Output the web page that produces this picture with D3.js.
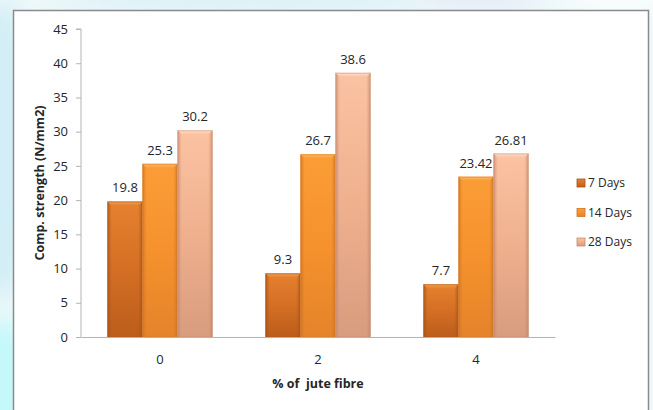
<!DOCTYPE html>
<html>
<head>
<meta charset="utf-8">
<script src="https://cdn.jsdelivr.net/npm/d3@7"></script>
<style>
  html, body { margin: 0; padding: 0; background: #ffffff; }
  svg { display: block; }
  text { font-family: "Open Sans", "DejaVu Sans", sans-serif; fill: #262626; }
</style>
</head>
<body>
<svg id="chart" width="653" height="410"></svg>
<script>
// Compressive strength by jute fibre content and curing age
const fibreContent = ["0", "2", "4"];
const seriesNames = ["7 Days", "14 Days", "28 Days"];
const days7 = [19.8, 9.3, 7.7];
const days14 = [25.3, 26.7, 23.42];
const days28 = [30.2, 38.6, 26.81];
const valueLabels = [["19.8", "9.3", "7.7"], ["25.3", "26.7", "23.42"], ["30.2", "38.6", "26.81"]];
const yTicks = [0, 5, 10, 15, 20, 25, 30, 35, 40, 45];

const seriesValues = [days7, days14, days28];

const svg = d3.select("#chart");
const W = 653, H = 410;
const defs = svg.append("defs");

// Soft backdrop behind the chart panel
const blur = defs.append("filter").attr("id", "soft").attr("x", "-50%").attr("y", "-50%")
  .attr("width", "200%").attr("height", "200%");
blur.append("feGaussianBlur").attr("stdDeviation", 12);

svg.append("rect").attr("width", W).attr("height", H).attr("fill", "#eef8fa");
const bg = svg.append("g").attr("filter", "url(#soft)");
bg.append("ellipse").attr("cx", 0).attr("cy", 150).attr("rx", 40).attr("ry", 150).attr("fill", "#d2eef6");
bg.append("ellipse").attr("cx", 0).attr("cy", 380).attr("rx", 40).attr("ry", 60).attr("fill", "#c4f8fa");
bg.append("ellipse").attr("cx", 250).attr("cy", 0).attr("rx", 200).attr("ry", 12).attr("fill", "#d8f0f6");
bg.append("ellipse").attr("cx", 480).attr("cy", 0).attr("rx", 60).attr("ry", 10).attr("fill", "#e4e8f4");
bg.append("ellipse").attr("cx", 620).attr("cy", 0).attr("rx", 60).attr("ry", 10).attr("fill", "#ffffff");

// Chart panel
svg.append("rect").attr("x", 13.5).attr("y", 10.5).attr("width", 635).attr("height", 420)
  .attr("fill", "#ffffff").attr("stroke", "#8a8a8a").attr("stroke-width", 1.5);

// Bar fills: body gradient plus edge shading
const palettes = [
  { top: "#e5812f", mid: "#d46f24", bot: "#bc5d1b", edge: "#a9521a", cap: "#f0a050" },
  { top: "#fb9d36", mid: "#f5922d", bot: "#e4832a", edge: "#cf7424", cap: "#fdbb62" },
  { top: "#fbc3a2", mid: "#efb08e", bot: "#d89c7e", edge: "#c48a6e", cap: "#fde0cc" }
];
palettes.forEach((p, i) => {
  const g = defs.append("linearGradient").attr("id", "body" + i)
    .attr("x1", 0).attr("y1", 0).attr("x2", 0).attr("y2", 1);
  g.append("stop").attr("offset", "0%").attr("stop-color", p.top);
  g.append("stop").attr("offset", "50%").attr("stop-color", p.mid);
  g.append("stop").attr("offset", "100%").attr("stop-color", p.bot);
  const e = defs.append("linearGradient").attr("id", "edge" + i)
    .attr("x1", 0).attr("y1", 0).attr("x2", 1).attr("y2", 0);
  e.append("stop").attr("offset", "0%").attr("stop-color", p.edge).attr("stop-opacity", 0.75);
  e.append("stop").attr("offset", "12%").attr("stop-color", p.edge).attr("stop-opacity", 0);
  e.append("stop").attr("offset", "88%").attr("stop-color", p.edge).attr("stop-opacity", 0);
  e.append("stop").attr("offset", "100%").attr("stop-color", p.edge).attr("stop-opacity", 0.75);
  const c = defs.append("linearGradient").attr("id", "cap" + i)
    .attr("x1", 0).attr("y1", 0).attr("x2", 0).attr("y2", 1);
  c.append("stop").attr("offset", "0%").attr("stop-color", p.cap);
  c.append("stop").attr("offset", "100%").attr("stop-color", p.top);
});

// Scales
const y = d3.scaleLinear().domain([0, 45]).range([337, 29]);
const x0 = d3.scaleBand().domain(fibreContent).range([81, 555])
  .paddingInner(0.335).paddingOuter(0.1675);
const x1 = d3.scaleBand().domain(seriesNames).range([0, x0.bandwidth()]);

// Y axis
const yAxis = svg.append("g").attr("transform", "translate(81,0)")
  .call(d3.axisLeft(y).tickValues(yTicks).tickSize(5).tickPadding(8));
yAxis.select(".domain").attr("stroke", "#b4b4b4").attr("d", "M-5," + y(45) + "H0V" + y(0));
yAxis.selectAll(".tick line").attr("stroke", "#b4b4b4");
yAxis.selectAll(".tick text").attr("font-size", 13).attr("fill", "#262626")
  .attr("font-family", "\"Open Sans\", sans-serif");

// Bars
const data = [];
fibreContent.forEach((c, ci) => {
  seriesNames.forEach((s, si) => {
    data.push({ cat: c, series: s, si: si, value: seriesValues[si][ci], label: valueLabels[si][ci] });
  });
});

const bars = svg.append("g").selectAll("g").data(data).join("g")
  .attr("transform", d => "translate(" + (x0(d.cat) + x1(d.series)) + ",0)");
const bw = x1.bandwidth();
bars.append("rect").attr("x", 0).attr("y", d => y(d.value)).attr("width", bw)
  .attr("height", d => y(0) - y(d.value)).attr("fill", d => "url(#body" + d.si + ")");
bars.append("rect").attr("x", 0).attr("y", d => y(d.value)).attr("width", bw)
  .attr("height", d => y(0) - y(d.value)).attr("fill", d => "url(#edge" + d.si + ")");
// bevelled cap
bars.append("path")
  .attr("d", d => {
    const t = y(d.value);
    return "M0," + t + "H" + bw + "L" + (bw - 4) + "," + (t + 4) + "H4Z";
  })
  .attr("fill", d => "url(#cap" + d.si + ")");
bars.append("rect").attr("x", 0.5).attr("y", d => y(d.value) + 0.5).attr("width", bw - 1)
  .attr("height", d => y(0) - y(d.value) - 0.5).attr("fill", "none")
  .attr("stroke", d => palettes[d.si].edge).attr("stroke-opacity", 0.45).attr("stroke-width", 1);

// Value labels
bars.append("text").attr("x", bw / 2).attr("y", d => y(d.value) - 9)
  .attr("text-anchor", "middle").attr("font-size", 13).text(d => d.label);

// X axis
const xAxis = svg.append("g").attr("transform", "translate(0," + y(0) + ")")
  .call(d3.axisBottom(x0).tickSize(0).tickPadding(18));
xAxis.select(".domain").attr("stroke", "#b4b4b4");
xAxis.selectAll(".tick text").attr("font-size", 13).attr("fill", "#262626")
  .attr("font-family", "\"Open Sans\", sans-serif");

// Axis titles
svg.append("text").attr("transform", "translate(44,183) rotate(-90)")
  .attr("text-anchor", "middle").attr("font-size", 12.5).attr("font-weight", "bold")
  .attr("fill", "#1a1a1a").text("Comp. strength (N/mm2)");
svg.append("text").attr("x", 318).attr("y", 388)
  .attr("text-anchor", "middle").attr("font-size", 12.5).attr("font-weight", "bold")
  .attr("fill", "#1a1a1a").text("% of  jute fibre").style("white-space", "pre");

// Legend
const legend = svg.append("g").selectAll("g").data(seriesNames).join("g")
  .attr("transform", (d, i) => "translate(577," + (183 + i * 29.5) + ")");
legend.append("rect").attr("x", 0).attr("y", -4).attr("width", 8).attr("height", 8)
  .attr("fill", (d, i) => "url(#body" + i + ")").attr("stroke", (d, i) => palettes[i].edge)
  .attr("stroke-width", 0.8);
legend.append("text").attr("x", 11).attr("y", 0).attr("dy", "0.35em")
  .attr("font-size", 12).text(d => d);
</script>
</body>
</html>
